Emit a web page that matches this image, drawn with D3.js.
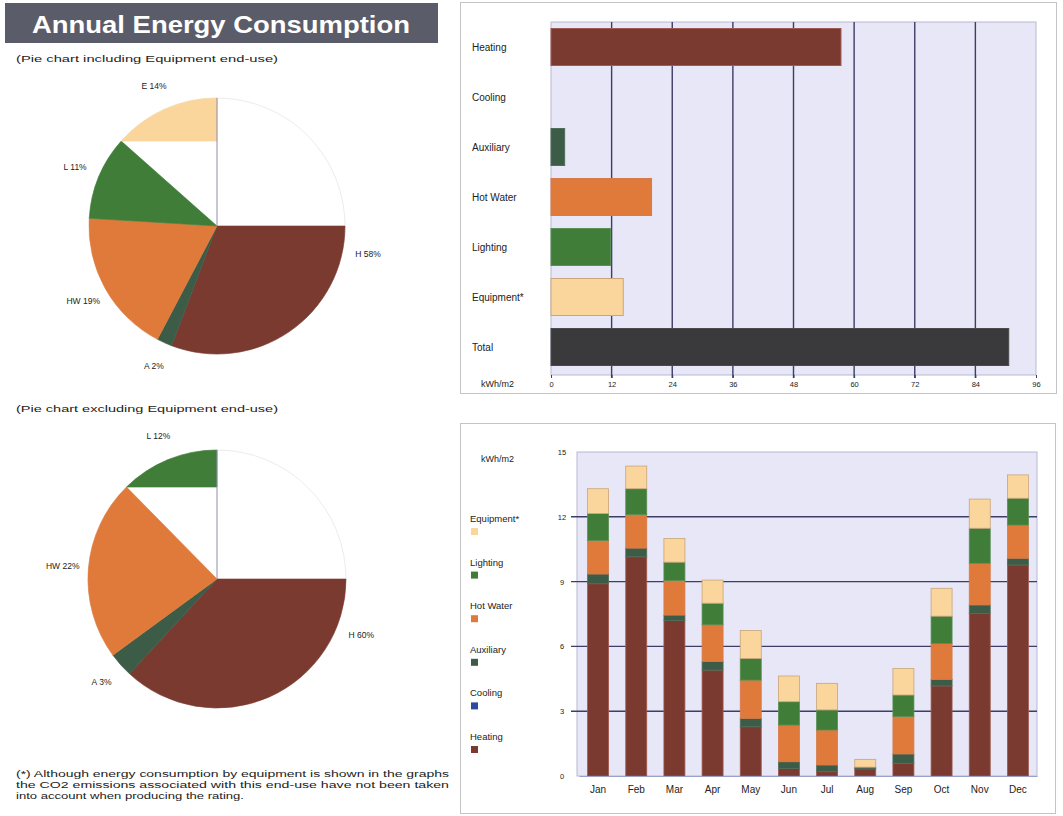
<!DOCTYPE html>
<html>
<head>
<meta charset="utf-8">
<script src="https://cdn.jsdelivr.net/npm/d3@7"></script>
<style>
  body { margin: 0; background: #fff; }
  svg { display: block; font-family: "Liberation Sans", Arial, sans-serif; }
</style>
</head>
<body>
<svg id="chart" width="1063" height="816"></svg>
<script>
// ---- Data -------------------------------------------------------------
// Pie 1: shares including equipment end-use (%)
const pie1Labels = ["H 58%", "A 2%", "HW 19%", "L 11%", "E 14%"];
const pie1Values = [58, 2, 19, 11, 14];
const pie1Keys   = ["Heating", "Auxiliary", "Hot Water", "Lighting", "Equipment*"];

// Pie 2: shares excluding equipment end-use (%)
const pie2Labels = ["H 60%", "A 3%", "HW 22%", "L 12%"];
const pie2Values = [60, 3, 22, 12];
const pie2Keys   = ["Heating", "Auxiliary", "Hot Water", "Lighting"];

// Annual totals by end-use (kWh/m2)
const endUses      = ["Heating", "Cooling", "Auxiliary", "Hot Water", "Lighting", "Equipment*", "Total"];
const annualValues = [57.4, 0, 2.7, 19.9, 11.8, 14.3, 90.6];
const annualTicks  = [0, 12, 24, 36, 48, 60, 72, 84, 96];

// Monthly consumption (kWh/m2)
const months    = ["Jan", "Feb", "Mar", "Apr", "May", "Jun", "Jul", "Aug", "Sep", "Oct", "Nov", "Dec"];
const heating   = [8.90, 10.15, 7.20, 4.90, 2.28, 0.35, 0.20, 0.33, 0.59, 4.17, 7.53, 9.77];
const cooling   = [0, 0, 0, 0, 0, 0, 0, 0, 0, 0, 0, 0];
const auxiliary = [0.45, 0.40, 0.25, 0.40, 0.39, 0.31, 0.31, 0.08, 0.43, 0.30, 0.39, 0.31];
const hotWater  = [1.55, 1.55, 1.60, 1.70, 1.77, 1.70, 1.62, 0.00, 1.73, 1.66, 1.93, 1.54];
const lighting  = [1.25, 1.20, 0.85, 1.00, 1.00, 1.08, 0.93, 0.00, 1.00, 1.27, 1.62, 1.24];
const equipment = [1.15, 1.05, 1.10, 1.07, 1.30, 1.19, 1.23, 0.36, 1.23, 1.29, 1.35, 1.08];
const monthlyTicks = [0, 3, 6, 9, 12, 15];

// Legend order (top to bottom) for the monthly chart
const legendKeys = ["Equipment*", "Lighting", "Hot Water", "Auxiliary", "Cooling", "Heating"];

const footnote = [
  "(*) Although energy consumption by equipment is shown in the graphs",
  "the CO2 emissions associated with this end-use have not been taken",
  "into account when producing the rating."
];

// ---- Styling ------------------------------------------------------------
const colorOf = {
  "Heating":    "#7b3a2f",
  "Cooling":    "#2a4aa0",
  "Auxiliary":  "#3c5c48",
  "Hot Water":  "#e07a3a",
  "Lighting":   "#3f7d38",
  "Equipment*": "#fbd69c",
  "Total":      "#3a3a3c"
};
const strokeOf = {
  "Heating":    "#a05a50",
  "Cooling":    "#2a4aa0",
  "Auxiliary":  "#4e6e5a",
  "Hot Water":  "#d77a4a",
  "Lighting":   "#5a8f55",
  "Equipment*": "#c9a57a",
  "Total":      "#4a4a4c"
};
const gridColor = "#3d3d66";
const plotBg = "#e7e7f7";
const textColor = "#222";

const svg = d3.select("#chart");

// ---- Title block -------------------------------------------------------
svg.append("rect").attr("x", 5).attr("y", 3).attr("width", 433).attr("height", 40)
  .attr("fill", "#5b5c6a");
svg.append("text").attr("x", 221).attr("y", 33).attr("text-anchor", "middle")
  .attr("fill", "#fff").attr("font-weight", "bold").attr("font-size", 24)
  .attr("textLength", 378).attr("lengthAdjust", "spacingAndGlyphs")
  .text("Annual Energy Consumption");

svg.append("text").attr("x", 16).attr("y", 62).attr("font-size", 9.5).attr("fill", textColor)
  .attr("textLength", 262).attr("lengthAdjust", "spacingAndGlyphs")
  .text("(Pie chart including Equipment end-use)");
svg.append("text").attr("x", 16).attr("y", 412).attr("font-size", 9.5).attr("fill", textColor)
  .attr("textLength", 262).attr("lengthAdjust", "spacingAndGlyphs")
  .text("(Pie chart excluding Equipment end-use)");

// ---- Pie charts --------------------------------------------------------
const pieGen = d3.pie().sort(null).value(d => d);

function drawPie(values, keys, labels, cx, cy, r) {
  const g = svg.append("g").attr("transform", `translate(${cx},${cy})`);
  const arcs = pieGen(values);
  const arcGen = d3.arc().innerRadius(0).outerRadius(r);
  const last = arcs.length - 1;

  g.append("circle").attr("r", r).attr("fill", "#fff").attr("stroke", "#ececec").attr("stroke-width", 1);

  arcs.forEach((a, i) => {
    let s = a.startAngle;
    const e = a.endAngle;
    let d;
    if (i === 0) {
      // first wedge is painted from the 3 o'clock position onward
      s = Math.max(s, Math.PI / 2);
      d = arcGen({startAngle: s, endAngle: e});
    } else if (i === last) {
      // closing wedge is filled against the vertical radius
      const px = r * Math.sin(s), py = -r * Math.cos(s);
      const p = d3.path();
      p.moveTo(0, py);
      p.lineTo(px, py);
      p.arc(0, 0, r, s - Math.PI / 2, e - Math.PI / 2);
      p.closePath();
      d = p.toString();
    } else {
      d = arcGen({startAngle: s, endAngle: e});
    }
    g.append("path").attr("d", d).attr("fill", colorOf[keys[i]])
      .attr("stroke", colorOf[keys[i]]).attr("stroke-width", 0.6);
  });

  g.append("line").attr("x1", 0).attr("y1", -r).attr("x2", 0).attr("y2", 0)
    .attr("stroke", "#8e8eaa").attr("stroke-width", 1);

  const labelArc = d3.arc().innerRadius(r * 1.2).outerRadius(r * 1.2);
  arcs.forEach((a, i) => {
    const [x, y] = labelArc.centroid(a);
    g.append("text").attr("x", x).attr("y", y + 3).attr("text-anchor", "middle")
      .attr("font-size", 8.5).attr("fill", textColor).text(labels[i]);
  });
}

drawPie(pie1Values, pie1Keys, pie1Labels, 217, 226, 128);
drawPie(pie2Values, pie2Keys, pie2Labels, 217, 579, 129);

// ---- Footnote -----------------------------------------------------------
footnote.forEach((line, i) => {
  svg.append("text").attr("x", 16).attr("y", 777 + i * 11).attr("font-size", 8.5)
    .attr("fill", textColor)
    .attr("textLength", i === 2 ? 228 : 433).attr("lengthAdjust", "spacingAndGlyphs")
    .text(line);
});

// ---- Panel frames -------------------------------------------------------
svg.append("rect").attr("x", 460.5).attr("y", 2.5).attr("width", 596).attr("height", 391)
  .attr("fill", "#fff").attr("stroke", "#c4c4c4");
svg.append("rect").attr("x", 460.5).attr("y", 423.5).attr("width", 595).attr("height", 390)
  .attr("fill", "#fff").attr("stroke", "#c4c4c4");

// ---- Annual horizontal bar chart ------------------------------------------
const xA = d3.scaleLinear().domain([0, 96]).range([551, 1036]);
const yA = d3.scaleBand().domain(endUses).range([22, 372]).paddingInner(0.26).paddingOuter(0.13);

svg.append("rect").attr("x", xA(0)).attr("y", 22).attr("width", xA(96) - xA(0)).attr("height", 353)
  .attr("fill", plotBg).attr("stroke", "#b9b9d2");

svg.append("g").selectAll("line").data(annualTicks.filter(t => t > 0 && t < 96)).join("line")
  .attr("x1", d => xA(d)).attr("x2", d => xA(d)).attr("y1", 22).attr("y2", 378)
  .attr("stroke", gridColor).attr("stroke-width", 1.4);

svg.append("g").selectAll("rect").data(endUses).join("rect")
  .attr("x", xA(0)).attr("y", d => yA(d))
  .attr("width", (d, i) => xA(annualValues[i]) - xA(0))
  .attr("height", yA.bandwidth())
  .attr("fill", d => colorOf[d]).attr("stroke", d => strokeOf[d]).attr("stroke-width", 1);

const axA = svg.append("g").attr("transform", "translate(0,375)")
  .call(d3.axisBottom(xA).tickValues(annualTicks).tickSize(3).tickPadding(4));
axA.select(".domain").remove();
axA.selectAll("line").attr("stroke", gridColor);
axA.selectAll("text").attr("font-size", 7.5).attr("fill", textColor).attr("font-family", "Liberation Sans, Arial, sans-serif");

svg.append("g").selectAll("text").data(endUses).join("text")
  .attr("x", 472).attr("y", d => yA(d) + yA.bandwidth() / 2 + 4)
  .attr("font-size", 10).attr("fill", textColor).text(d => d);
svg.append("text").attr("x", 481).attr("y", 387).attr("font-size", 9).attr("fill", textColor).text("kWh/m2");

// ---- Monthly stacked bar chart ------------------------------------------
const series = {
  "Heating": heating, "Cooling": cooling, "Auxiliary": auxiliary,
  "Hot Water": hotWater, "Lighting": lighting, "Equipment*": equipment
};
const stackKeys = ["Heating", "Cooling", "Auxiliary", "Hot Water", "Lighting", "Equipment*"];
const rows = months.map((m, i) => {
  const o = {month: m};
  stackKeys.forEach(k => { o[k] = series[k][i]; });
  return o;
});
const stacked = d3.stack().keys(stackKeys)(rows);

const xM = d3.scaleBand().domain(months).range([579, 1037]).paddingInner(0.45).paddingOuter(0.225);
const yM = d3.scaleLinear().domain([0, 15]).range([776, 452]);

svg.append("rect").attr("x", 577).attr("y", yM(15)).attr("width", 1037 - 577).attr("height", yM(0) - yM(15))
  .attr("fill", plotBg).attr("stroke", "#b9b9d2");

svg.append("g").selectAll("line").data(monthlyTicks.filter(t => t > 0 && t < 15)).join("line")
  .attr("x1", 571).attr("x2", 1037).attr("y1", d => yM(d)).attr("y2", d => yM(d))
  .attr("stroke", gridColor).attr("stroke-width", 1.4);

svg.append("g").selectAll("g").data(stacked).join("g")
  .attr("fill", d => colorOf[d.key]).attr("stroke", d => strokeOf[d.key]).attr("stroke-width", 0.8)
  .selectAll("rect").data(d => d.filter(v => v[1] - v[0] > 0)).join("rect")
  .attr("x", d => xM(d.data.month)).attr("width", xM.bandwidth())
  .attr("y", d => yM(d[1])).attr("height", d => yM(d[0]) - yM(d[1]));

const axMy = svg.append("g").attr("transform", "translate(568,0)")
  .call(d3.axisLeft(yM).tickValues(monthlyTicks).tickSize(0).tickPadding(0));
axMy.select(".domain").remove();
axMy.selectAll("text").attr("font-size", 7.5).attr("fill", textColor).attr("text-anchor", "middle")
  .attr("x", -6).attr("font-family", "Liberation Sans, Arial, sans-serif");

const axMx = svg.append("g").attr("transform", "translate(0,776)")
  .call(d3.axisBottom(xM).tickSize(0).tickPadding(10));
axMx.select(".domain").attr("stroke", "#9aa0c8");
axMx.selectAll("text").attr("font-size", 10).attr("fill", textColor).attr("font-family", "Liberation Sans, Arial, sans-serif");

svg.append("text").attr("x", 481).attr("y", 462).attr("font-size", 9).attr("fill", textColor).text("kWh/m2");

const legend = svg.append("g").selectAll("g").data(legendKeys).join("g")
  .attr("transform", (d, i) => `translate(470,${522 + i * 43.6})`);
legend.append("text").attr("x", 0).attr("y", 0).attr("font-size", 9.5).attr("fill", textColor).text(d => d);
legend.append("rect").attr("x", 1).attr("y", 6).attr("width", 7).attr("height", 7)
  .attr("fill", d => colorOf[d]);
</script>
</body>
</html>
